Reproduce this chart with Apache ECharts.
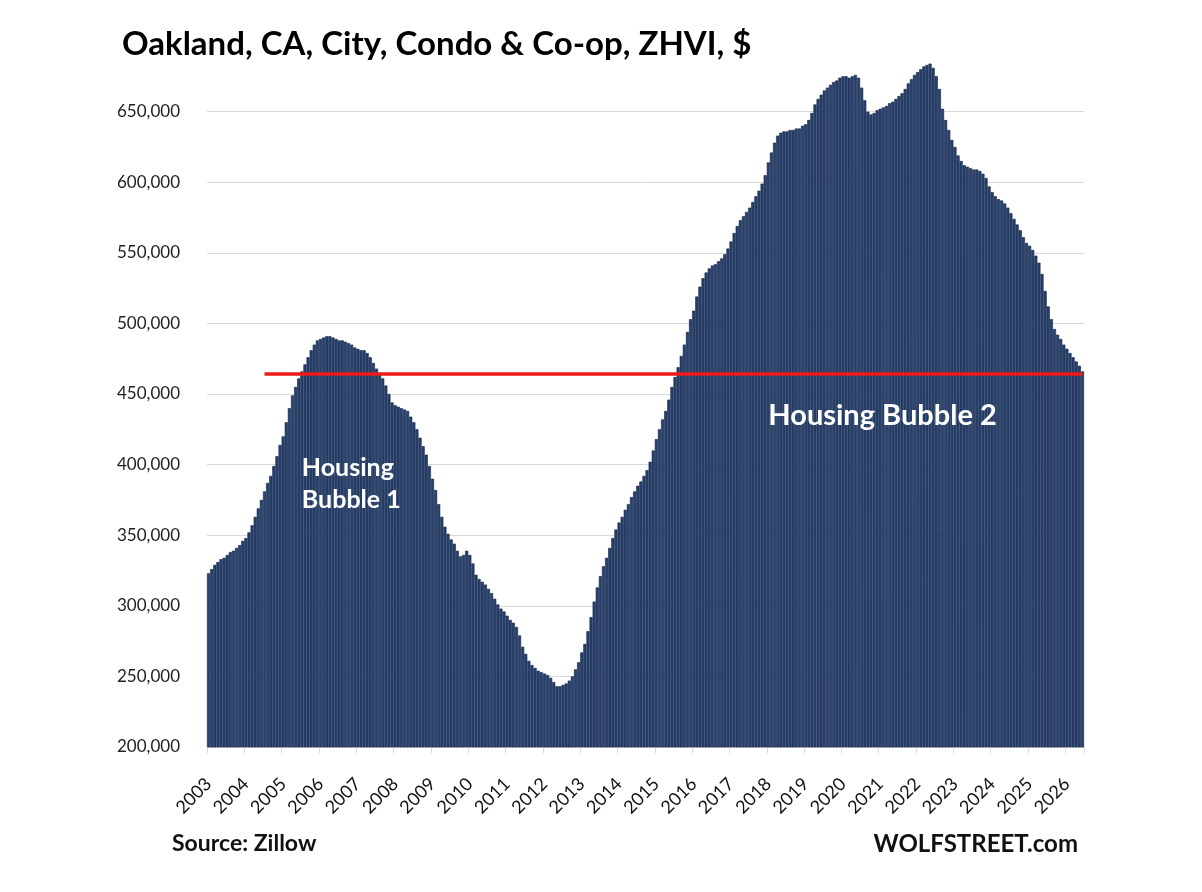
<!DOCTYPE html>
<html><head><meta charset="utf-8">
<script src="https://cdn.jsdelivr.net/npm/echarts@6/dist/echarts.min.js"></script>
<style>html,body{margin:0;padding:0;background:#fff}#c{width:1202px;height:892px}</style>
</head><body><div id="c"></div>
<script>
// ---- data (monthly ZHVI, thousands of $) ----
const firstYear = 2003;
const zhviThousands = [
  323, 326, 329, 331, 333, 334, 336, 338, 339, 341, 343, 346, // 2003
  348, 352, 357, 363, 369, 375, 381, 387, 392, 399, 406, 414, // 2004
  420, 430, 440, 449, 455, 461, 466, 471, 476, 481, 485, 488, // 2005
  489, 490, 491, 491, 490, 489, 488, 488, 487, 486, 485, 483, // 2006
  482, 481, 481, 479, 476, 472, 468, 465, 461, 456, 450, 444, // 2007
  442, 441, 440, 439, 438, 434, 430, 425, 419, 413, 407, 399, // 2008
  390, 382, 372, 363, 356, 351, 347, 344, 339, 335, 336, 339, // 2009
  336, 330, 322, 319, 317, 315, 312, 309, 305, 301, 298, 296, // 2010
  293, 290, 288, 285, 279, 271, 266, 261, 258, 256, 254, 253, // 2011
  252, 251, 249, 246, 243, 243, 244, 245, 247, 250, 255, 260, // 2012
  267, 273, 282, 292, 303, 313, 321, 328, 334, 341, 348, 354, // 2013
  359, 363, 368, 372, 377, 381, 385, 388, 392, 396, 402, 410, // 2014
  418, 425, 432, 438, 446, 455, 462, 469, 477, 485, 494, 503, // 2015
  509, 519, 526, 532, 536, 539, 541, 542, 544, 546, 549, 553, // 2016
  558, 564, 569, 573, 576, 579, 582, 586, 590, 594, 599, 605, // 2017
  614, 621, 628, 633, 635, 636, 636, 637, 637, 638, 638, 640, // 2018
  641, 644, 649, 655, 659, 662, 665, 667, 669, 671, 672, 674, // 2019
  675, 675, 674, 675, 676, 674, 667, 658, 650, 648, 649, 651, // 2020
  652, 653, 654, 656, 657, 659, 661, 663, 666, 670, 673, 676, // 2021
  678, 680, 682, 683, 684, 681, 675, 666, 652, 644, 637, 630, // 2022
  625, 619, 615, 612, 611, 610, 609, 609, 608, 606, 603, 597, // 2023
  593, 590, 588, 587, 585, 582, 578, 574, 570, 566, 561, 557, // 2024
  555, 552, 548, 543, 535, 523, 512, 503, 496, 492, 489, 485, // 2025
  482, 479, 476, 473, 470, 466                                // 2026
];
const yMin = 200000, yMax = 700000, yStep = 50000;
const bubbleLevel = 464000;
const bubbleLineStart = '2004-07';
const note1 = { text: 'Housing\nBubble 1', at: '2005-07', value: 386000 };
const note2 = { text: 'Housing Bubble 2', at: '2018-01', value: 435000 };
const titleText = 'Oakland, CA, City, Condo & Co-op, ZHVI, $';
const sourceText = 'Source: Zillow';
const brandText = 'WOLFSTREET.com';

// ---- build ----
const categories = zhviThousands.map((_, i) => {
  const y = firstYear + Math.floor(i / 12), m = i % 12 + 1;
  return y + '-' + (m < 10 ? '0' + m : m);
});
const values = zhviThousands.map(v => v * 1000);
const FONT = 'Lato, "Open Sans", sans-serif';

const chart = echarts.init(document.getElementById('c'), null, { renderer: 'canvas' });
chart.setOption({
  animation: false,
  backgroundColor: '#ffffff',
  title: [
    { text: titleText, left: 122, top: 28, padding: 0,
      textStyle: { fontFamily: FONT, fontSize: 33, fontWeight: 'bold', color: '#000' } },
    { text: sourceText, left: 172, top: 832, padding: 0,
      textStyle: { fontFamily: FONT, fontSize: 23, fontWeight: 'bold', color: '#111' } },
    { text: brandText, right: 124, top: 832, padding: 0,
      textStyle: { fontFamily: FONT, fontSize: 24, fontWeight: 'bold', color: '#111' } }
  ],
  grid: { left: 207, right: 118, top: 41, bottom: 145, containLabel: false },
  xAxis: {
    type: 'category',
    data: categories,
    boundaryGap: true,
    axisLine: { show: true, lineStyle: { color: '#c8ccd4', width: 1 } },
    axisTick: { show: true, interval: i => i % 12 === 0, length: 6, lineStyle: { color: '#d9d9d9' } },
    axisLabel: {
      interval: i => i % 12 === 0,
      formatter: v => v.slice(0, 4),
      rotate: 45, margin: 34,
      fontFamily: FONT, fontSize: 18, color: '#111'
    },
    splitLine: { show: false }
  },
  yAxis: {
    type: 'value', min: yMin, max: yMax, interval: yStep,
    axisLine: { show: false }, axisTick: { show: false },
    axisLabel: {
      showMaxLabel: false, margin: 27, fontFamily: FONT, fontSize: 17, color: '#222',
      formatter: v => v.toLocaleString('en-US')
    },
    splitLine: { show: true, showMaxLine: false, lineStyle: { color: '#d9d9d9', width: 1 } }
  },
  series: [{
    type: 'bar',
    data: values,
    barCategoryGap: '0%',
    itemStyle: { color: '#26416d', borderColor: '#14254a', borderWidth: 0.6 },
    markLine: {
      silent: true, symbol: 'none', animation: false,
      label: { show: false },
      lineStyle: { color: '#ee1a1a', width: 3.5, type: 'solid' },
      data: [[{ coord: [bubbleLineStart, bubbleLevel] }, { coord: [categories[categories.length - 1], bubbleLevel] }]]
    },
    markPoint: {
      silent: true, symbol: 'circle', symbolSize: 0,
      label: { show: true, position: 'inside', color: '#fff', fontFamily: FONT, fontWeight: 'bold', fontSize: 25, lineHeight: 32 },
      data: [
        { coord: [note1.at, note1.value], label: { formatter: note1.text, align: 'left', verticalAlign: 'middle' } },
        { coord: [note2.at, note2.value], label: { formatter: note2.text, align: 'left', verticalAlign: 'middle', fontSize: 29 } }
      ]
    }
  }]
});
</script></body></html>
